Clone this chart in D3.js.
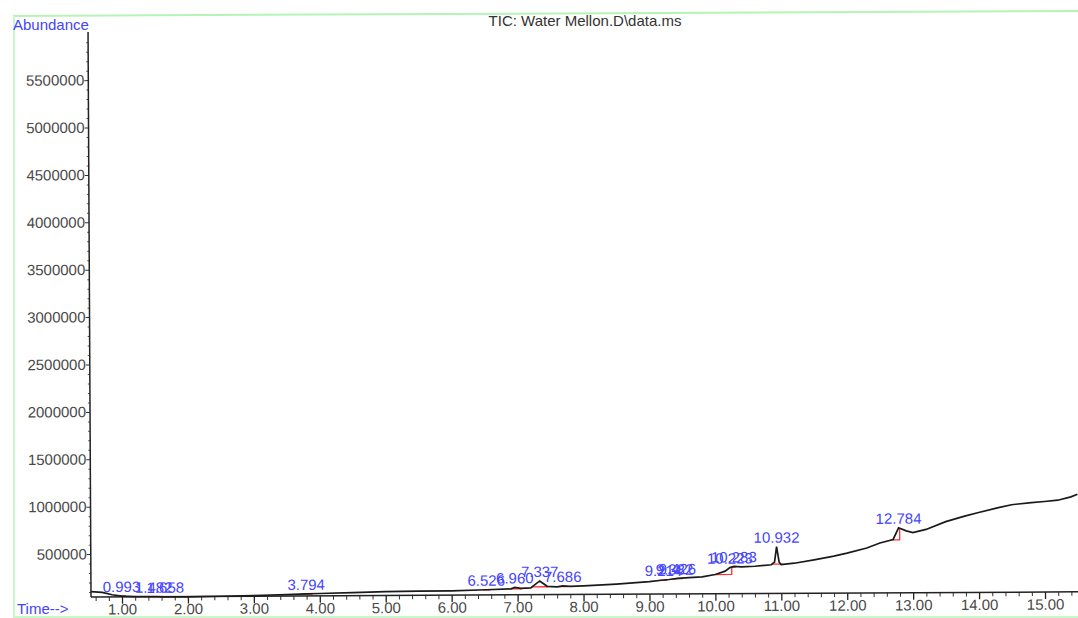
<!DOCTYPE html>
<html>
<head>
<meta charset="utf-8">
<script src="https://cdn.jsdelivr.net/npm/d3@7"></script>
<style>
  body { margin: 0; background: #fff; }
  svg { display: block; font-family: "Liberation Sans", Arial, sans-serif; }
</style>
</head>
<body>
<svg id="chart" width="1078" height="618"></svg>
<script>
// TIC trace (time in min, abundance in counts)
const times = [0.53, 0.70, 0.85, 0.993, 1.20, 1.482, 1.658, 2.00, 2.50, 3.00, 3.50, 3.794, 4.00, 4.50,
  5.00, 5.50, 6.00, 6.526, 6.90, 6.96, 7.05, 7.20, 7.337, 7.45, 7.60, 7.686, 7.80, 8.00, 8.50, 9.00,
  9.214, 9.30, 9.382, 9.426, 9.60, 9.80, 10.00, 10.15, 10.223, 10.283, 10.40, 10.60, 10.85, 10.90,
  10.932, 10.97, 11.00, 11.20, 11.50, 11.80, 12.00, 12.30, 12.50, 12.70, 12.784, 12.90, 13.00, 13.20,
  13.50, 13.80, 14.00, 14.30, 14.50, 14.80, 15.00, 15.20, 15.40, 15.50];
const abundance = [105000, 95000, 70000, 56000, 48000, 47000, 45000, 43000, 48000, 54000, 62000, 68000, 72000, 80000,
  88000, 91000, 93000, 102000, 110000, 125000, 115000, 120000, 192000, 135000, 128000, 138000, 133000, 138000, 155000, 178000,
  195000, 200000, 208000, 212000, 218000, 226000, 250000, 285000, 322000, 335000, 330000, 335000, 350000, 378000,
  540000, 378000, 350000, 365000, 400000, 438000, 468000, 522000, 573000, 610000, 733000, 700000, 682000, 714000,
  795000, 855000, 890000, 940000, 970000, 992000, 1002000, 1015000, 1050000, 1076000];

// integrated peaks
const peakTimes  = [0.993, 1.482, 1.658, 3.794, 6.526, 6.960, 7.337, 7.686, 9.214, 9.382, 9.426, 10.223, 10.283, 10.932, 12.784];
const peakLabels = ["0.993", "1.482", "1.658", "3.794", "6.526", "6.960", "7.337", "7.686", "9.214", "9.382", "9.426", "10.223", "10.283", "10.932", "12.784"];
const peakStart  = [0.95, 1.38, 1.58, 3.72, 6.48, 6.88, 7.22, 7.62, 9.16, 9.34, 9.40, 10.00, 10.25, 10.86, 12.68];
const peakEnd    = [1.05, 1.55, 1.72, 3.88, 6.58, 7.06, 7.45, 7.75, 9.26, 9.40, 9.50, 10.25, 10.30, 11.02, 12.80];

const xTicks = d3.range(1, 16);
const xMinor = d3.range(3, 78).filter(i => i % 5 !== 0).map(i => i / 5);
const yTicks = d3.range(500000, 5500001, 500000);
const yMinor = d3.range(1, 60).filter(i => i % 5 !== 0).map(i => i * 100000);

const title = "TIC: Water Mellon.D\\data.ms";

const svg = d3.select('#chart');
const blue = '#4444ff';
const grey = '#484848';

const x = d3.scaleLinear().domain([0.53, 15.5]).range([91, 1078]);
const y = d3.scaleLinear().domain([0, 6000000]).range([601.5, 32.7]);
const axisY = 597;

// scan frame (light green)
svg.append('line').attr('x1', 13).attr('y1', 16).attr('x2', 1078).attr('y2', 11)
  .style('stroke', '#b6f3b6').style('stroke-width', 2);
svg.append('line').attr('x1', 14).attr('y1', 16).attr('x2', 14).attr('y2', 618)
  .style('stroke', '#c8f7c8').style('stroke-width', 2);
svg.append('line').attr('x1', 14).attr('y1', 617).attr('x2', 1078).attr('y2', 617)
  .style('stroke', '#c8f7c8').style('stroke-width', 2);

svg.append('text').attr('x', 585).attr('y', 26).attr('text-anchor', 'middle')
  .style('font-size', '15px').style('fill', '#333').text(title);
svg.append('text').attr('x', 13).attr('y', 30)
  .style('font-size', '15px').style('fill', blue).text('Abundance');
svg.append('text').attr('x', 17).attr('y', 614)
  .style('font-size', '15px').style('fill', blue).text('Time-->');

// the scan is slightly tilted
const g = svg.append('g').attr('transform', 'rotate(-0.3, 91, 597)');

// y axis
const yAxis = g.append('g').attr('transform', 'translate(91,0)')
  .call(d3.axisLeft(y).tickValues(yTicks).tickFormat(d3.format('d')).tickSize(4).tickPadding(0));
yAxis.select('.domain').remove();
yAxis.selectAll('line').style('stroke', '#333');
yAxis.selectAll('text').style('font-size', '15px').style('fill', grey)
  .style('font-family', '"Liberation Sans", Arial, sans-serif');
const yMinorAxis = g.append('g').attr('transform', 'translate(91,0)')
  .call(d3.axisLeft(y).tickValues(yMinor).tickFormat('').tickSize(2));
yMinorAxis.select('.domain').remove();
yMinorAxis.selectAll('line').style('stroke', '#555');
g.append('line').attr('x1', 91).attr('x2', 91).attr('y1', 32).attr('y2', axisY)
  .style('stroke', '#222').style('stroke-width', 1.5);

// x axis
const xAxis = g.append('g').attr('transform', `translate(0,${axisY})`)
  .call(d3.axisBottom(x).tickValues(xTicks).tickFormat(d3.format('.2f')).tickSize(7).tickPadding(0));
xAxis.select('.domain').remove();
xAxis.selectAll('line').style('stroke', '#222').style('stroke-width', 1.3);
xAxis.selectAll('text').style('font-size', '15px').style('fill', grey)
  .style('font-family', '"Liberation Sans", Arial, sans-serif');
const xMinorAxis = g.append('g').attr('transform', `translate(0,${axisY})`)
  .call(d3.axisBottom(x).tickValues(xMinor).tickFormat('').tickSize(4));
xMinorAxis.select('.domain').remove();
xMinorAxis.selectAll('line').style('stroke', '#333');
g.append('line').attr('x1', 91).attr('x2', 1078).attr('y1', axisY).attr('y2', axisY)
  .style('stroke', '#222').style('stroke-width', 1.5);

// value of the trace at any time
const bisect = d3.bisector(d => d).left;
function valueAt(t) {
  const i = Math.max(1, Math.min(times.length - 1, bisect(times, t)));
  const t0 = times[i - 1], t1 = times[i];
  return abundance[i - 1] + (abundance[i] - abundance[i - 1]) * (t - t0) / (t1 - t0);
}

// integration baselines
const peaks = peakTimes.map((t, i) => ({ t: t, label: peakLabels[i], s: peakStart[i], e: peakEnd[i] }));
g.selectAll('.base')
  .data(peaks)
  .enter()
  .append('path')
  .attr('class', 'base')
  .attr('d', d => {
    const vs = valueAt(d.s), ve = valueAt(d.e);
    return `M${x(d.s)},${y(vs)}L${x(d.e)},${y(vs)}L${x(d.e)},${y(ve)}`;
  })
  .style('fill', 'none')
  .style('stroke', '#ff3030')
  .style('stroke-width', 1.3);

// trace
const line = d3.line()
  .x((d, i) => x(times[i]))
  .y(d => y(d));
g.append('path')
  .datum(abundance)
  .attr('d', line)
  .style('fill', 'none')
  .style('stroke', '#1a1a1a')
  .style('stroke-width', 1.7);

// peak labels
g.selectAll('.peak-label')
  .data(peaks)
  .enter()
  .append('text')
  .attr('class', 'peak-label')
  .attr('x', d => x(d.t))
  .attr('y', d => y(valueAt(d.t)) - 4)
  .attr('text-anchor', 'middle')
  .style('font-size', '15px')
  .style('fill', blue)
  .text(d => d.label);
</script>
</body>
</html>
